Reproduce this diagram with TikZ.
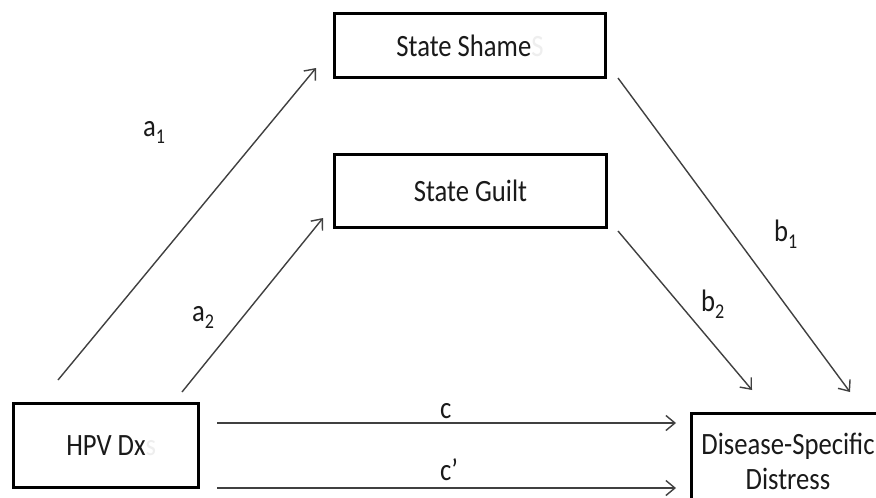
\documentclass[tikz,border=0pt]{standalone}
\usepackage{fontspec}
\setmainfont{Carlito}[FakeStretch=0.86]
\usetikzlibrary{arrows.meta}
\definecolor{arr}{HTML}{404040}
\definecolor{ghost}{HTML}{EEEEEE}
\definecolor{txt}{HTML}{1A1A1A}
\newcommand{\sbs}[1]{\raisebox{-7pt}{\fontsize{21}{21}\selectfont #1}}
\begin{document}
\begin{tikzpicture}[x=1pt,y=-1pt,
  box/.style={draw=black,line width=3pt,fill=white,inner sep=0pt,align=center,text=txt,font=\fontsize{31}{37}\selectfont},
  conn/.style={draw=arr,line width=1.4pt,-{Straight Barb[length=9pt,width=15pt,line width=1.4pt]}},
  lbl/.style={font=\fontsize{31}{37}\selectfont,inner sep=0pt,text=txt}]
\clip (0,0) rectangle (876,498);
\fill[white] (0,0) rectangle (876,498);
% boxes
\node[box,minimum width=271pt,minimum height=64pt] (shame) at (470,45.5) {State Shame\textcolor{ghost}{S}};
\node[box,minimum width=272pt,minimum height=73pt] (guilt) at (470.5,191) {State Guilt};
\node[box,minimum width=185pt,minimum height=84pt] (hpv) at (106,445.5) {HPV Dx\rlap{\textcolor{ghost}{s}}};
\node[box,minimum width=194pt,minimum height=95pt] (dis) at (788,461) {Disease-Specific\\[-2pt]Distress};
% connector ends
\coordinate (a1s) at (58,380);   \coordinate (a1e) at (316,68);
\coordinate (a2s) at (182,392);  \coordinate (a2e) at (323,218);
\coordinate (b1s) at (618,78);   \coordinate (b1e) at (850,392);
\coordinate (b2s) at (618,231);  \coordinate (b2e) at (752,390);
\coordinate (cs) at (217,423);   \coordinate (ce) at (676,423);
\coordinate (cps) at (217,488);  \coordinate (cpe) at (676,488);
\draw[conn] (a1s) -- (a1e);
\draw[conn] (a2s) -- (a2e);
\draw[conn] (b1s) -- (b1e);
\draw[conn] (b2s) -- (b2e);
\draw[conn] (cs) -- (ce);
\draw[conn] (cps) -- (cpe);
% labels
\node[lbl,anchor=base west] (la1) at (143,136) {a\sbs{1}};
\node[lbl,anchor=base west] (la2) at (192,321) {a\sbs{2}};
\node[lbl,anchor=base west] (lb1) at (774,241) {b\sbs{1}};
\node[lbl,anchor=base west] (lb2) at (701,311) {b\sbs{2}};
\node[lbl,anchor=base west] (lc) at (440,418) {c};
\node[lbl,anchor=base west] (lcp) at (440,480) {c’};
\end{tikzpicture}
\end{document}
